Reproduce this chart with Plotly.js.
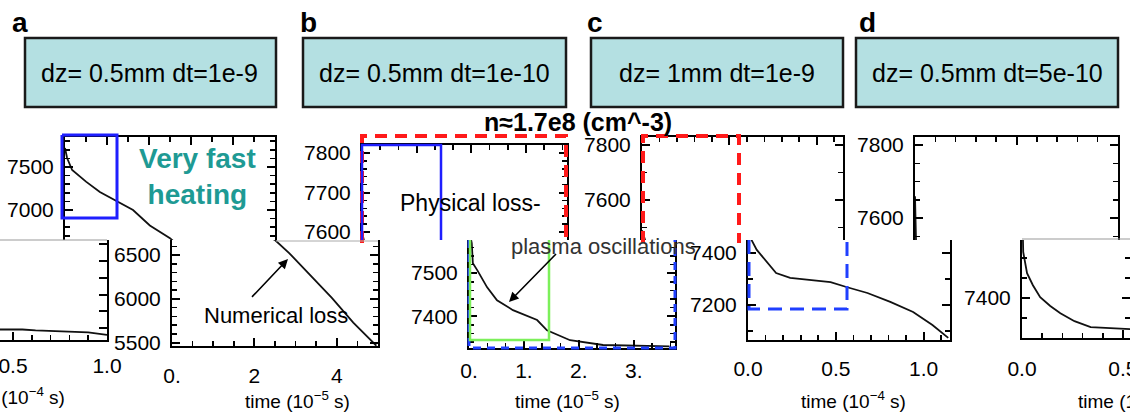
<!DOCTYPE html>
<html><head><meta charset="utf-8">
<script src="https://cdn.plot.ly/plotly-3.0.1.min.js"></script>
<style>html,body{margin:0;padding:0;overflow:hidden;background:#fff;width:1130px;height:413px;}
#chart{position:absolute;left:-100px;top:0;width:1230px;height:413px;}</style>
</head><body><div id="chart"></div>
<script>
// ---- data (time in units shown on each axis, density values) ----
const panelLabels = ['a','b','c','d'];
const boxTexts = ['dz= 0.5mm dt=1e-9','dz= 0.5mm dt=1e-10','dz= 1mm dt=1e-9','dz= 0.5mm dt=5e-10'];
// panel a (time 1e-5 s)
const tA = [0, 0.05, 0.17, 0.5, 0.83, 1.19, 1.62, 2.02, 2.43, 2.5, 2.85, 3.2, 3.55, 3.88, 4.4, 4.96];
const nA = [7721, 7605, 7465, 7330, 7209, 7116, 7000, 6820, 6686, 6672, 6520, 6345, 6178, 6011, 5730, 5465];
// fragment at left edge (time 1e-4 s)
const tE = [0.4, 0.55, 0.62, 0.7, 0.8, 0.9, 1.0];
const nE = [5585, 5585, 5575, 5570, 5560, 5550, 5520];
// panel b (time 1e-5 s)
const tB = [0, 0.05, 0.07, 0.15, 0.33, 0.51, 0.8, 1.24, 1.42, 1.84, 2.44, 3.0, 3.65];
const nB = [7600, 7570, 7523, 7507, 7467, 7437, 7414, 7391, 7367, 7344, 7333, 7331, 7330];
// panel c (time 1e-4 s)
const tC = [0, 0.02, 0.05, 0.11, 0.16, 0.24, 0.34, 0.47, 0.56, 0.68, 0.81, 0.94, 1.05, 1.14];
const nC = [7490, 7450, 7412, 7362, 7323, 7304, 7296, 7288, 7269, 7246, 7212, 7173, 7123, 7073];
// panel d (time 1e-4 s)
const tD = [0, 0.002, 0.006, 0.025, 0.054, 0.09, 0.14, 0.19, 0.26, 0.34, 0.52, 0.7];
const nD = [7660, 7545, 7515, 7462, 7432, 7402, 7380, 7362, 7342, 7327, 7320, 7318];
// tick labels
const aTickVals = [0, 2, 4], aTickText = ['0.', '2', '4'];
const eTickVals = [0.5, 1.0], eTickText = ['0.5', '1.0'];
const bTickVals = [0, 1, 2, 3], bTickText = ['0.', '1.', '2.', '3.'];
const cTickVals = [0, 0.5, 1.0], cTickText = ['0.0', '0.5', '1.0'];
const dTickVals = [0, 0.5], dTickText = ['0.0', '0.5'];

// ---- pixel helpers ----
const L = -100, W = 1230, H = 413;
const fx = p => (p - L) / W;
const fy = p => 1 - p / H;
const FONT = 'Liberation Sans, Arial, sans-serif';
const tickfont = {family: FONT, size: 21, color: '#000'};

function xax(px0, px1, range, side, extra) {
  return Object.assign({domain: [fx(px0), fx(px1)], range: range, side: side, showline: true, linecolor: '#000', linewidth: 2,
    ticks: 'inside', ticklen: 8, tickwidth: 2, tickcolor: '#000', showgrid: false, zeroline: false, mirror: false,
    showticklabels: side === 'bottom', tickfont: tickfont, ticklabeloverflow: 'allow', fixedrange: true}, extra);
}
function yax(py0, py1, range, extra) {
  return Object.assign({domain: [fy(py1), fy(py0)], range: range, showline: true, linecolor: '#000', linewidth: 2,
    ticks: 'inside', ticklen: 8, tickwidth: 2, tickcolor: '#000', showgrid: false, zeroline: false, mirror: 'ticks',
    tickfont: tickfont, ticklabelstandoff: 5, ticklabeloverflow: 'allow', fixedrange: true}, extra);
}
const mn = (d) => ({ticks: 'inside', ticklen: 5, tickwidth: 1.6, tickcolor: '#000', dtick: d, tick0: 0, showgrid: false});

const line = {color: '#111', width: 1.8};
const traces = [
  {x: tA, y: nA, xaxis: 'x', yaxis: 'y'},
  {x: tA, y: nA, xaxis: 'x2', yaxis: 'y2'},
  {x: tE, y: nE, xaxis: 'x3', yaxis: 'y3'},
  {x: tB, y: nB, xaxis: 'x4', yaxis: 'y4'},
  {x: tB, y: nB, xaxis: 'x5', yaxis: 'y5'},
  {x: tC, y: nC, xaxis: 'x6', yaxis: 'y6'},
  {x: tC, y: nC, xaxis: 'x7', yaxis: 'y7'},
  {x: tD, y: nD, xaxis: 'x8', yaxis: 'y8'},
  {x: tD, y: nD, xaxis: 'x9', yaxis: 'y9'}
].map(t => Object.assign(t, {type: 'scatter', mode: 'lines', line: line, showlegend: false, hoverinfo: 'skip'}));

function P(pts) { return 'M' + pts.map(p => fx(p[0]) + ',' + fy(p[1])).join(' L'); }
function pathShape(pts, color, width, dash) {
  return {type: 'path', xref: 'paper', yref: 'paper', path: P(pts), line: {color: color, width: width, dash: dash || 'solid'}, layer: 'above'};
}
const boxes = [[25, 276], [303, 566], [591, 843], [856, 1118]];
const shapes = [];
boxes.forEach(b => shapes.push({type: 'rect', xref: 'paper', yref: 'paper', x0: fx(b[0]), x1: fx(b[1]), y0: fy(107), y1: fy(38),
  fillcolor: '#b4e0e2', line: {color: '#1a1a1a', width: 2.5}, layer: 'below'}));
shapes.push(pathShape([[62,135],[117,135],[117,218],[62,218],[62,135]], '#1f1fff', 3));
shapes.push(pathShape([[362,243],[362,136],[566,136],[566,243]], '#ff1a1a', 4, '12px,8px'));
shapes.push(pathShape([[362,240],[362,145],[441,145],[441,240]], '#1f1fff', 2.5));
shapes.push(pathShape([[469,240],[469,348],[675,348],[675,240]], '#1f3fff', 3, '8px,6px'));
shapes.push(pathShape([[470,240],[470,340],[549,340],[549,240]], '#7cf05a', 2.5));
shapes.push(pathShape([[643,243],[643,136],[739,136],[739,243]], '#ff1a1a', 4, '12px,8px'));
shapes.push(pathShape([[749,240],[749,309],[847,309],[847,240]], '#1f3fff', 3, '14px,8px'));
shapes.push(pathShape([[0,240],[107,240]], '#999', 1));
shapes.push(pathShape([[276,241],[378,241]], '#aaa', 1));
shapes.push(pathShape([[1022,239],[1130,239]], '#999', 1));

const ann = [];
function txt(x, y, text, size, opts) {
  ann.push(Object.assign({xref: 'paper', yref: 'paper', x: fx(x), y: fy(y), text: text, showarrow: false,
    xanchor: 'center', yanchor: 'middle', font: {family: FONT, size: size, color: '#000'}}, opts || {}));
}
const labelX = [20, 308, 595, 867];
panelLabels.forEach((l, i) => txt(labelX[i], 22, '<b>' + l + '</b>', 28));
const boxCx = [149, 434, 717, 987];
boxTexts.forEach((t, i) => txt(boxCx[i], 73, t, 25));
txt(197, 176, '<b>Very fast<br>heating</b>', 28, {font: {family: FONT, size: 28, color: '#1e9a94'}});
txt(470, 203, 'Physical loss-', 23);
txt(578, 122, '<b>n≈1.7e8 (cm^-3)</b>', 25);
txt(276, 315, 'Numerical loss', 22);
txt(603, 246, 'plasma oscillations', 22, {font: {family: FONT, size: 22, color: '#333'}});
txt(297, 400, 'time (10<sup>−5</sup> s)', 19);
txt(567, 400, 'time (10<sup>−5</sup> s)', 19);
txt(853, 400, 'time (10<sup>−4</sup> s)', 19);
txt(1130, 400, 'time (10<sup>−4</sup> s)', 19);
txt(12, 396, 'time (10<sup>−4</sup> s)', 19);
function arrow(hx, hy, tx, ty) {
  ann.push({xref: 'paper', yref: 'paper', x: fx(hx), y: fy(hy), ax: tx - hx, ay: ty - hy, text: ' ', showarrow: true,
    arrowhead: 2, arrowsize: 1.2, arrowwidth: 1.6, arrowcolor: '#000', standoff: 0, font: {size: 2}});
}
arrow(288, 259, 250, 299);
arrow(509, 302, 558, 252);

const layout = {
  width: 1230, height: 413, margin: {l: 0, r: 0, t: 0, b: 0}, paper_bgcolor: '#fff', plot_bgcolor: 'rgba(0,0,0,0)',
  showlegend: false, shapes: shapes, annotations: ann,
  xaxis:  xax(65, 275, [0, 5], 'top', {anchor: 'y', dtick: 1, minor: mn(0.5)}),
  yaxis:  yax(137, 240, [6651, 7849], {anchor: 'x', dtick: 500, minor: mn(100)}),
  xaxis2: xax(172, 378, [0, 5], 'bottom', {anchor: 'y2', tickmode: 'array', tickvals: aTickVals, ticktext: aTickText, ticklabelstandoff: 10, minor: mn(0.5)}),
  yaxis2: yax(240, 346, [5462, 6672], {anchor: 'x2', dtick: 500, minor: mn(100)}),
  xaxis3: xax(-81, 107, [0, 1.0], 'bottom', {anchor: 'y3', tickmode: 'array', tickvals: eTickVals, ticktext: eTickText, ticklabelstandoff: 6, minor: mn(0.1)}),
  yaxis3: yax(240, 340, [5460, 6650], {anchor: 'x3', dtick: 200}),
  xaxis4: xax(362, 567, [0, 3.75], 'top', {anchor: 'y4', dtick: 1, minor: mn(1/3)}),
  yaxis4: yax(145, 240, [7580, 7820], {anchor: 'x4', dtick: 100, minor: mn(20)}),
  xaxis5: xax(469, 675, [0, 3.75], 'bottom', {anchor: 'y5', tickmode: 'array', tickvals: bTickVals, ticktext: bTickText, ticklabelstandoff: 3, minor: mn(1/3)}),
  yaxis5: yax(240, 348, [7326, 7577], {anchor: 'x5', dtick: 100, minor: mn(20)}),
  xaxis6: xax(642, 843, [0, 1.15], 'top', {anchor: 'y6', dtick: 0.5, minor: mn(0.1)}),
  yaxis6: yax(137, 240, [7455, 7829], {anchor: 'x6', dtick: 200, minor: mn(100)}),
  xaxis7: xax(748, 950, [0, 1.15], 'bottom', {anchor: 'y7', tickmode: 'array', tickvals: cTickVals, ticktext: cTickText, ticklabelstandoff: 9, minor: mn(0.1)}),
  yaxis7: yax(240, 340, [7065, 7450], {anchor: 'x7', dtick: 200, minor: mn(100)}),
  xaxis8: xax(915, 1118, [0, 1.0], 'top', {anchor: 'y8', dtick: 0.5, minor: mn(0.1)}),
  yaxis8: yax(137, 240, [7540, 7822], {anchor: 'x8', dtick: 200, minor: mn(50)}),
  xaxis9: xax(1022, 1130, [0, 0.535], 'bottom', {anchor: 'y9', tickmode: 'array', tickvals: dTickVals, ticktext: dTickText, ticklabelstandoff: 11, minor: mn(0.1)}),
  yaxis9: yax(240, 338, [7300, 7545], {anchor: 'x9', dtick: 200, minor: mn(50)})
};
Plotly.newPlot('chart', traces, layout, {displayModeBar: false, staticPlot: true});
</script></body></html>
